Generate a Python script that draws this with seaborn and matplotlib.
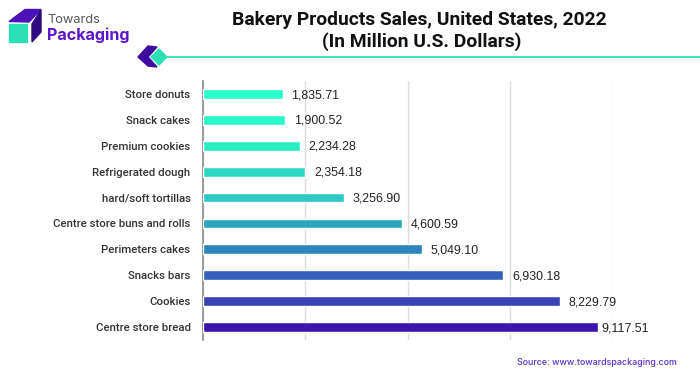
import numpy as np
import pandas as pd
import seaborn as sns
import matplotlib.pyplot as plt
from matplotlib.patches import Polygon, Rectangle

categories = ['Store donuts', 'Snack cakes', 'Premium cookies', 'Refrigerated dough',
              'hard/soft tortillas', 'Centre store buns and rolls', 'Perimeters cakes',
              'Snacks bars', 'Cookies', 'Centre store bread']
values = [1835.71, 1900.52, 2234.28, 2354.18, 3256.90, 4600.59, 5049.10, 6930.18, 8229.79, 9117.51]
bar_colors = ['#28FFCB', '#2AF8C8', '#2BEDC4', '#2DD9C2', '#2EC9C4', '#2FA6BE',
              '#2F86BE', '#3560BC', '#3A42B8', '#3C14B0']
grid_ticks = [0, 2360, 4720, 7080, 9440]

sns.set_theme(style='white')
plt.rcParams['font.family'] = ['Roboto', 'DejaVu Sans']

df = pd.DataFrame({'category': categories, 'sales': values})

fig = plt.figure(figsize=(7, 3.75), dpi=100)
ax = fig.add_axes([203 / 700, 1 - 340 / 375, 409 / 700, 259 / 375])

sns.barplot(data=df, y='category', x='sales', hue='category', palette=bar_colors,
            legend=False, width=0.38, saturation=1, ax=ax, zorder=3)

ax.set_xlim(0, 9440)
ax.set_ylim(9.5, -0.5)
ax.set_xticks(grid_ticks)
ax.set_xticklabels([])
ax.set_xlabel('')
ax.set_ylabel('')
ax.grid(axis='x', color='#dddddd', linewidth=1, zorder=0)
ax.tick_params(axis='y', length=0, pad=9, labelsize=8.2, labelcolor='#333333')
ax.tick_params(axis='x', length=0)
for label in ax.get_yticklabels():
    label.set_fontweight('medium')
for side in ['top', 'right', 'bottom']:
    ax.spines[side].set_visible(False)
ax.spines['left'].set_color('#8c8c8c')
ax.spines['left'].set_linewidth(1.2)

# value labels, the last one sits closer to its bar
gaps = [6, 6, 6.5, 6.5, 6, 6, 6.5, 6.5, 6.5, 2.5]
for i, v in enumerate(values):
    ax.annotate(f'{v:,.2f}', (v, i), xytext=(gaps[i], -0.8), textcoords='offset points',
                va='center', ha='left', fontsize=8.9, color='#222222', family='Liberation Sans')

# title
fig.text(419 / 700, 1 - 20 / 375, 'Bakery Products Sales, United States, 2022', ha='center', va='center',
         fontsize=13.9, fontweight='bold', color='#111111')
fig.text(422 / 700, 1 - 42 / 375, '(In Million U.S. Dollars)', ha='center', va='center',
         fontsize=13.9, fontweight='bold', color='#111111')

# overlay in pixel coordinates for logo and divider
over = fig.add_axes([0, 0, 1, 1], facecolor='none')
over.set_xlim(0, 700)
over.set_ylim(375, 0)
over.axis('off')
over.plot([165, 700], [56.7, 56.7], color='#2BE0B5', linewidth=1.3)
over.add_patch(Polygon([[138, 57], [148, 46], [157, 47], [148, 57], [157, 67], [148, 66]], color='#3D0C9E'))
over.add_patch(Polygon([[151, 57], [159, 49], [167, 57], [159, 65]], color='#2BE0B5'))
over.add_patch(Polygon([[9, 21.5], [25, 9.5], [41, 9.5], [29, 22]], color='#4A12B8'))
over.add_patch(Polygon([[32, 24], [41, 10], [41, 32], [32, 42]], color='#2E0A7E'))
over.add_patch(Rectangle((9, 24), 18, 18, color='#2BE0B5'))
over.text(47, 19.7, 'Towards', fontsize=9.2, color='#555555', va='center', family='Inter')
over.text(47, 35, 'Packaging', fontsize=11.6, color='#5B16C8', va='center', fontweight='bold', family='Inter')
over.text(677, 362.7, 'Source: www.towardspackaging.com', fontsize=6.4, color='#5B30C8', ha='right', va='center',
          fontweight='medium', family='Inter')

fig.savefig('out.png', dpi=100)
